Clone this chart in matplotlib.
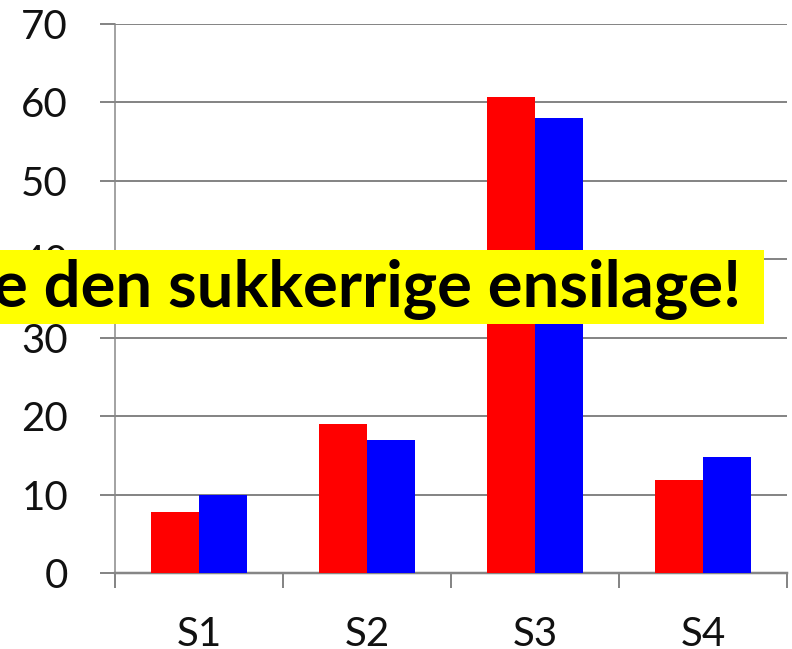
import matplotlib
matplotlib.use('Agg')
import matplotlib.pyplot as plt
from matplotlib.patches import Rectangle
import numpy as np

categories = ['S1', 'S2', 'S3', 'S4']
red_values = [7.8, 19.0, 60.7, 11.9]
blue_values = [10.0, 17.0, 58.0, 14.8]
y_ticks = [0, 10, 20, 30, 40, 50, 60, 70]
banner_text = 'e den sukkerrige ensilage!'

W, H = 792, 649
PT = 72 / 100.0  # points per pixel at dpi 100

fig = plt.figure(figsize=(W / 100, H / 100), dpi=100)
ax = fig.add_axes([115 / W, 76 / H, (787 - 115) / W, (573 - 23.7) / H])

x = np.arange(len(categories))
bw = 0.283
ax.bar(x - bw / 2, red_values, bw, color='#FF0000', zorder=3)
ax.bar(x + bw / 2, blue_values, bw, color='#0000FF', zorder=3)

ax.set_xlim(-0.5, len(categories) - 0.5)
ax.set_ylim(0, 70)

grey = '#868686'
ax.set_yticks(y_ticks)
ax.set_yticklabels([str(v) for v in y_ticks])
ax.yaxis.grid(True, color=grey, linewidth=2 * PT, zorder=0)
ax.set_axisbelow(True)

# x: major ticks at category boundaries (no labels), minor ticks at centres with labels
ax.set_xticks(np.arange(-0.5, len(categories), 1.0))
ax.set_xticklabels([''] * (len(categories) + 1))
ax.set_xticks(x, minor=True)
ax.set_xticklabels(categories, minor=True)

font = 'Lato'
ax.tick_params(axis='y', which='major', length=15 * PT, width=2 * PT, color=grey,
               pad=32 * PT, labelsize=29, labelcolor='#111111')
for lab in ax.get_yticklabels():
    lab.set_fontfamily(font)
ax.tick_params(axis='x', which='major', length=15 * PT, width=2 * PT, color=grey)
ax.tick_params(axis='x', which='minor', length=0, pad=43 * PT, labelsize=29,
               labelcolor='#111111')
for lab in ax.get_xticklabels(minor=True):
    lab.set_fontfamily(font)

for s in ['top', 'right']:
    ax.spines[s].set_visible(False)
ax.spines['left'].set_color(grey)
ax.spines['left'].set_linewidth(1.5 * PT)
ax.spines['bottom'].set_color(grey)
ax.spines['bottom'].set_linewidth(2.5 * PT)
ax.spines['left'].set_zorder(1)

# yellow banner
rect = Rectangle((0, (H - 324) / H), 764 / W, 74 / H, transform=fig.transFigure,
                 facecolor='#FFFF00', edgecolor='none', zorder=10)
fig.add_artist(rect)
t = fig.text(741 / W, (H - 307) / H, banner_text, ha='right', va='baseline',
             fontsize=43, fontweight='bold', family=font, color='black', zorder=11)
fig.canvas.draw()
bb = t.get_window_extent()
t.set_fontsize(43 * 749 / bb.width)

fig.savefig('out.png', dpi=100)
